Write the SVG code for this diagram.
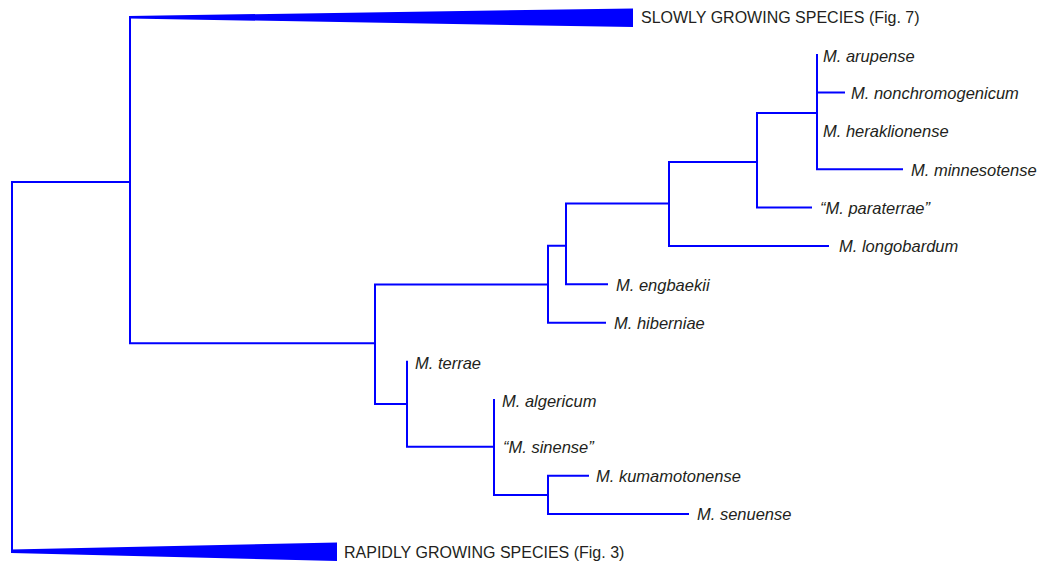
<svg xmlns="http://www.w3.org/2000/svg" width="1038" height="562" viewBox="0 0 1038 562">
<style>
.e{fill:none;stroke:#0000ff;stroke-width:2;stroke-linecap:square}
.w{fill:#0000ff}
.t{font-family:"Liberation Sans",Arial,sans-serif;font-size:16.5px;font-style:italic;fill:#231f20}
.h{font-family:"Liberation Sans",Arial,sans-serif;font-size:16px;fill:#231f20}
</style>
<rect width="1038" height="562" fill="#ffffff"/>
<g id="connectors">
<path class="e" d="M12,182 V551 M12,182 H130 M130,17 V343.3 M130,343.3 H375"/>
<path class="e" d="M375,284.5 V404 M375,284.5 H548 M375,404 H407"/>
<path class="e" d="M548,245.7 V322.7 M548,322.7 H605 M548,245.7 H566"/>
<path class="e" d="M566,203.5 V284.3 M566,284.3 H607 M566,203.5 H669"/>
<path class="e" d="M669,162 V246 M669,246 H828 M669,162 H757"/>
<path class="e" d="M757,113 V207.6 M757,207.6 H811 M757,113 H817"/>
<path class="e" d="M817,55 V169.2 M817,92.4 H844 M817,169.2 H902"/>
<path class="e" d="M407,361.7 V446.7 M407,446.7 H494"/>
<path class="e" d="M494,400 V495 M494,495 H548"/>
<path class="e" d="M548,475.7 V514 M548,475.7 H588 M548,514 H688"/>
</g>
<g id="slowly">
<polygon class="w" points="129,16 633,8.5 633,27 129,18.5"/>
<text class="h" x="641" y="23">SLOWLY GROWING SPECIES (Fig. 7)</text>
</g>
<g id="rapidly">
<polygon class="w" points="11,549.5 337,542.5 337,561 11,553"/>
<text class="h" x="344" y="558">RAPIDLY GROWING SPECIES (Fig. 3)</text>
</g>
<g id="arupense"><text class="t" x="823" y="62">M. arupense</text></g>
<g id="nonchromogenicum"><text class="t" x="851" y="98.5">M. nonchromogenicum</text></g>
<g id="heraklionense"><text class="t" x="823" y="137">M. heraklionense</text></g>
<g id="minnesotense"><text class="t" x="911" y="175.5">M. minnesotense</text></g>
<g id="paraterrae"><text class="t" x="820" y="214">“M. paraterrae”</text></g>
<g id="longobardum"><text class="t" x="839" y="252">M. longobardum</text></g>
<g id="engbaekii"><text class="t" x="616" y="290.5">M. engbaekii</text></g>
<g id="hiberniae"><text class="t" x="614" y="329">M. hiberniae</text></g>
<g id="terrae"><text class="t" x="415" y="369">M. terrae</text></g>
<g id="algericum"><text class="t" x="502" y="407">M. algericum</text></g>
<g id="sinense"><text class="t" x="503" y="453">“M. sinense”</text></g>
<g id="kumamotonense"><text class="t" x="596" y="482">M. kumamotonense</text></g>
<g id="senuense"><text class="t" x="697" y="520">M. senuense</text></g>
</svg>
